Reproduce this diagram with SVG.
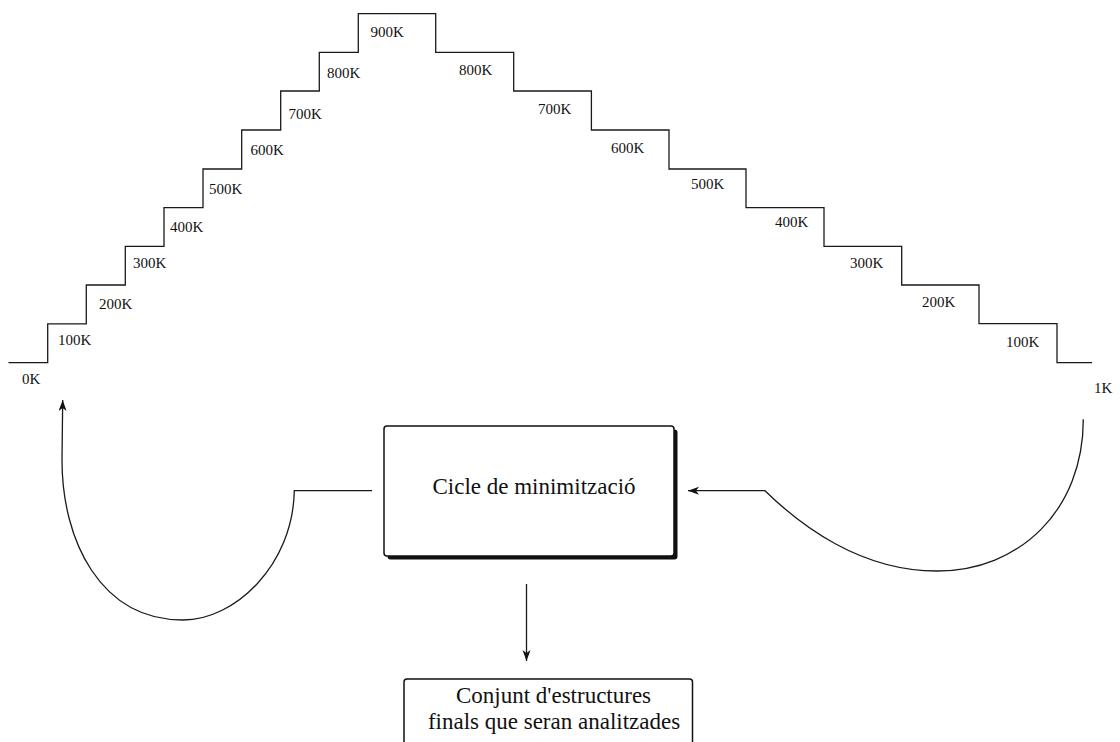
<svg xmlns="http://www.w3.org/2000/svg" width="1120" height="742" viewBox="0 0 1120 742">
<style>
.ln{fill:none;stroke:#1a1a1a;stroke-width:1.3}
.lbl{font-family:"Liberation Serif","Times New Roman",serif;font-size:15px;fill:#111}
.big{font-family:"Liberation Serif","Times New Roman",serif;font-size:23px;fill:#111}
.box{fill:#fff;stroke:#111;stroke-width:1.5}
</style>
<defs>
<marker id="ah" markerUnits="userSpaceOnUse" markerWidth="12" markerHeight="10" refX="11" refY="4" orient="auto">
<path d="M0,0 L11,4 L0,8 L3,4 z" fill="#111"/>
</marker>
</defs>
<rect width="1120" height="742" fill="#fff"/>
<g id="staircase">
<path class="ln" d="M8.5,362.7 H47.7 V323.9 H86.3 V285 H125.3 V246.3 H164 V207.7 H203 V169 H241.7 V130 H280.7 V91 H319.3 V52.3 H358.3 V13.7 H435.7 V52.3 H513.7 V91 H591.4 V130 H669 V169 H746 V207.7 H824 V246.3 H901.7 V285 H979 V323.7 H1057 V362.7 H1092"/>
<text class="lbl" x="22" y="384">0K</text>
<text class="lbl" x="58" y="345">100K</text>
<text class="lbl" x="99" y="309">200K</text>
<text class="lbl" x="133" y="268">300K</text>
<text class="lbl" x="170" y="232">400K</text>
<text class="lbl" x="209" y="194">500K</text>
<text class="lbl" x="250.5" y="155">600K</text>
<text class="lbl" x="288.5" y="118.5">700K</text>
<text class="lbl" x="327" y="78">800K</text>
<text class="lbl" x="370.5" y="37">900K</text>
<text class="lbl" x="459" y="75">800K</text>
<text class="lbl" x="538" y="114">700K</text>
<text class="lbl" x="611" y="153">600K</text>
<text class="lbl" x="691" y="189">500K</text>
<text class="lbl" x="775" y="227">400K</text>
<text class="lbl" x="850" y="268">300K</text>
<text class="lbl" x="922" y="307">200K</text>
<text class="lbl" x="1006" y="347">100K</text>
<text class="lbl" x="1094" y="392.5">1K</text>
</g>
<g id="cicle">
<rect x="387.5" y="429.5" width="290" height="130" rx="3" fill="#111"/>
<rect class="box" x="384" y="426" width="290" height="130" rx="3"/>
<text class="big" x="534" y="494" text-anchor="middle">Cicle de minimització</text>
</g>
<g id="conjunt">
<rect class="box" x="404" y="679" width="288.5" height="90" rx="3" stroke-width="1.2"/>
<text class="big" text-anchor="middle"><tspan x="553.5" y="703">Conjunt d'estructures</tspan><tspan x="554" y="729">finals que seran analitzades</tspan></text>
</g>
<g id="connectors">
<path class="ln" d="M372,490.7 H294.3 C293,565 235,620 183,620 C100,620 62,540 62,460 L62.7,400" marker-end="url(#ah)"/>
<path class="ln" d="M1083.3,419.3 C1083.3,510 1020,571 937,571 C860,571 800,525 765,490.7 L688,490.7" marker-end="url(#ah)"/>
<path class="ln" d="M526.5,584 V661" marker-end="url(#ah)"/>
</g>
</svg>
